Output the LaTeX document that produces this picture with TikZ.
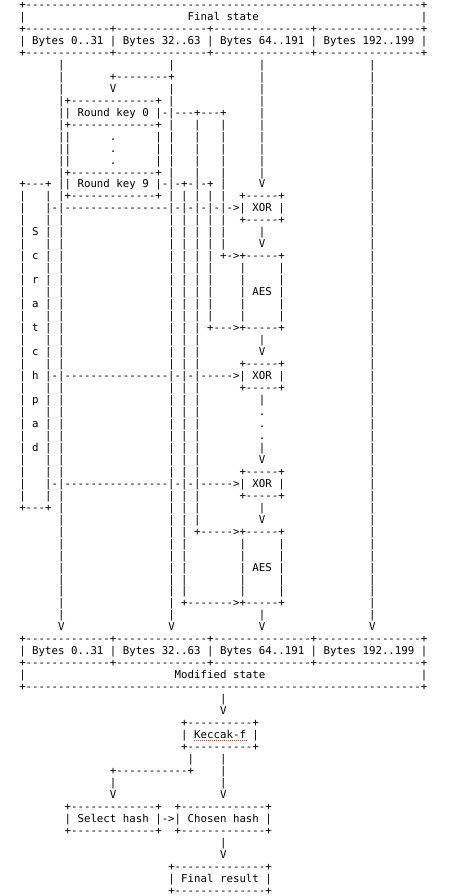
\documentclass[tikz,border=0pt]{standalone}
\usepackage{fontspec}
\setmonofont[Ligatures=TeXOff]{DejaVu Sans Mono}
\ExplSyntaxOn
\cs_new:Npn \Rep #1#2 { \prg_replicate:nn {#1} {#2} }
\ExplSyntaxOff
\newcommand\Sp[1]{\Rep{#1}{~}}
\newcommand\Ds[1]{\Rep{#1}{-{}}}
\newcommand\Pl[1]{|~#1~|~|}
\newcommand\R[2]{\node[asc] (l#1) at (19.26,{887.54-11.97*#1}) {#2};}
\begin{document}
\begin{tikzpicture}[x=1pt,y=1pt,
  asc/.style={anchor=base west,inner sep=0pt,outer sep=0pt,text=black,
    font=\ttfamily\fontsize{10.76}{12}\selectfont},
  squiggle/.style={draw={rgb,255:red,205;green,70;blue,70},line width=0.9pt,dash pattern=on 1pt off 1pt}]
\fill[white] (0,0) rectangle (460,896);
\useasboundingbox (0,0) rectangle (460,896);
\R{0}{+\Ds{61}+}
\R{1}{|\Sp{25}Final~state\Sp{25}|}
\R{2}{+\Ds{13}+\Ds{14}+\Ds{15}+\Ds{16}+}
\R{3}{|~Bytes~0..31~|~Bytes~32..63~|~Bytes~64..191~|~Bytes~192..199~|}
\R{4}{+\Ds{13}+\Ds{14}+\Ds{15}+\Ds{16}+}
\R{5}{\Sp{6}|\Sp{16}|\Sp{13}|\Sp{16}|}
\R{6}{\Sp{6}|\Sp{7}+\Ds{8}+\Sp{13}|\Sp{16}|}
\R{7}{\Sp{6}|\Sp{7}V\Sp{8}|\Sp{13}|\Sp{16}|}
\R{8}{\Sp{6}|+\Ds{13}+~|\Sp{13}|\Sp{16}|}
\R{9}{\Sp{6}||~Round~key~0~|-|\Ds{3}+\Ds{3}+\Sp{5}|\Sp{16}|}
\R{10}{\Sp{6}|+\Ds{13}+~|\Sp{3}|\Sp{3}|\Sp{5}|\Sp{16}|}
\R{11}{\Sp{6}||\Sp{6}.\Sp{6}|~|\Sp{3}|\Sp{3}|\Sp{5}|\Sp{16}|}
\R{12}{\Sp{6}||\Sp{6}.\Sp{6}|~|\Sp{3}|\Sp{3}|\Sp{5}|\Sp{16}|}
\R{13}{\Sp{6}||\Sp{6}.\Sp{6}|~|\Sp{3}|\Sp{3}|\Sp{5}|\Sp{16}|}
\R{14}{\Sp{6}|+\Ds{13}+~|\Sp{3}|\Sp{3}|\Sp{5}|\Sp{16}|}
\R{15}{+\Ds{3}+~||~Round~key~9~|-|-+-|-+~|\Sp{5}V\Sp{16}|}
\R{16}{|\Sp{3}|~|+\Ds{13}+~|~|~|~|~|\Sp{2}+\Ds{5}+\Sp{13}|}
\R{17}{|\Sp{3}|-|\Ds{16}|-|-|-|-|->|~XOR~|\Sp{13}|}
\R{18}{|\Sp{3}|~|\Sp{16}|~|~|~|~|\Sp{2}+\Ds{5}+\Sp{13}|}
\R{19}{\Pl{S}\Sp{16}|~|~|~|~|\Sp{5}|\Sp{16}|}
\R{20}{\Pl{~}\Sp{16}|~|~|~|~|\Sp{5}V\Sp{16}|}
\R{21}{\Pl{c}\Sp{16}|~|~|~|~+->+\Ds{5}+\Sp{13}|}
\R{22}{\Pl{~}\Sp{16}|~|~|~|\Sp{4}|\Sp{5}|\Sp{13}|}
\R{23}{\Pl{r}\Sp{16}|~|~|~|\Sp{4}|\Sp{5}|\Sp{13}|}
\R{24}{\Pl{~}\Sp{16}|~|~|~|\Sp{4}|~AES~|\Sp{13}|}
\R{25}{\Pl{a}\Sp{16}|~|~|~|\Sp{4}|\Sp{5}|\Sp{13}|}
\R{26}{\Pl{~}\Sp{16}|~|~|~|\Sp{4}|\Sp{5}|\Sp{13}|}
\R{27}{\Pl{t}\Sp{16}|~|~|~+\Ds{3}>+\Ds{5}+\Sp{13}|}
\R{28}{\Pl{~}\Sp{16}|~|~|\Sp{9}|\Sp{16}|}
\R{29}{\Pl{c}\Sp{16}|~|~|\Sp{9}V\Sp{16}|}
\R{30}{\Pl{~}\Sp{16}|~|~|\Sp{6}+\Ds{5}+\Sp{13}|}
\R{31}{|~h~|-|\Ds{16}|-|-|\Ds{5}>|~XOR~|\Sp{13}|}
\R{32}{\Pl{~}\Sp{16}|~|~|\Sp{6}+\Ds{5}+\Sp{13}|}
\R{33}{\Pl{p}\Sp{16}|~|~|\Sp{9}|\Sp{16}|}
\R{34}{\Pl{~}\Sp{16}|~|~|\Sp{9}.\Sp{16}|}
\R{35}{\Pl{a}\Sp{16}|~|~|\Sp{9}.\Sp{16}|}
\R{36}{\Pl{~}\Sp{16}|~|~|\Sp{9}.\Sp{16}|}
\R{37}{\Pl{d}\Sp{16}|~|~|\Sp{9}|\Sp{16}|}
\R{38}{\Pl{~}\Sp{16}|~|~|\Sp{9}V\Sp{16}|}
\R{39}{\Pl{~}\Sp{16}|~|~|\Sp{6}+\Ds{5}+\Sp{13}|}
\R{40}{|\Sp{3}|-|\Ds{16}|-|-|\Ds{5}>|~XOR~|\Sp{13}|}
\R{41}{\Pl{~}\Sp{16}|~|~|\Sp{6}+\Ds{5}+\Sp{13}|}
\R{42}{+\Ds{3}+~|\Sp{16}|~|~|\Sp{9}|\Sp{16}|}
\R{43}{\Sp{6}|\Sp{16}|~|~|\Sp{9}V\Sp{16}|}
\R{44}{\Sp{6}|\Sp{16}|~|~+\Ds{5}>+\Ds{5}+\Sp{13}|}
\R{45}{\Sp{6}|\Sp{16}|~|\Sp{8}|\Sp{5}|\Sp{13}|}
\R{46}{\Sp{6}|\Sp{16}|~|\Sp{8}|\Sp{5}|\Sp{13}|}
\R{47}{\Sp{6}|\Sp{16}|~|\Sp{8}|~AES~|\Sp{13}|}
\R{48}{\Sp{6}|\Sp{16}|~|\Sp{8}|\Sp{5}|\Sp{13}|}
\R{49}{\Sp{6}|\Sp{16}|~|\Sp{8}|\Sp{5}|\Sp{13}|}
\R{50}{\Sp{6}|\Sp{16}|~+\Ds{7}>+\Ds{5}+\Sp{13}|}
\R{51}{\Sp{6}|\Sp{16}|\Sp{13}|\Sp{16}|}
\R{52}{\Sp{6}V\Sp{16}V\Sp{13}V\Sp{16}V}
\R{53}{+\Ds{13}+\Ds{14}+\Ds{15}+\Ds{16}+}
\R{54}{|~Bytes~0..31~|~Bytes~32..63~|~Bytes~64..191~|~Bytes~192..199~|}
\R{55}{+\Ds{13}+\Ds{14}+\Ds{15}+\Ds{16}+}
\R{56}{|\Sp{23}Modified~state\Sp{24}|}
\R{57}{+\Ds{61}+}
\R{58}{\Sp{31}|}
\R{59}{\Sp{31}V}
\R{60}{\Sp{25}+\Ds{10}+}
\R{61}{\Sp{25}|~Keccak-f~|}
\R{62}{\Sp{25}+\Ds{10}+}
\R{63}{\Sp{26}|\Sp{4}|}
\R{64}{\Sp{14}+\Ds{11}+\Sp{4}|}
\R{65}{\Sp{14}|\Sp{16}|}
\R{66}{\Sp{14}V\Sp{16}V}
\R{67}{\Sp{7}+\Ds{13}+\Sp{2}+\Ds{13}+}
\R{68}{\Sp{7}|~Select~hash~|->|~Chosen~hash~|}
\R{69}{\Sp{7}+\Ds{13}+\Sp{2}+\Ds{13}+}
\R{70}{\Sp{31}|}
\R{71}{\Sp{31}V}
\R{72}{\Sp{23}+\Ds{14}+}
\R{73}{\Sp{23}|~Final~result~|}
\R{74}{\Sp{23}+\Ds{14}+}
\draw[squiggle] ([shift={(175pt,-2pt)}]l61.base west) -- ([shift={(229pt,-2pt)}]l61.base west);
\end{tikzpicture}
\end{document}
